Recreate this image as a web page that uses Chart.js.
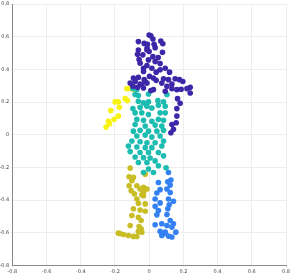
<!DOCTYPE html>
<html>
<head>
<meta charset="utf-8">
<script src="https://cdn.jsdelivr.net/npm/chart.js@4"></script>
<style>
  html, body { margin: 0; padding: 0; background: #fff; }
  #c { display: block; }
</style>
</head>
<body>
<canvas id="c" width="291" height="273"></canvas>
<script>
// cluster points [x, y]
const clusterTop = [
  [0.000,0.610],[0.010,0.606],[0.022,0.586],[0.068,0.574],[0.080,0.557],[-0.010,0.553],
  [0.029,0.553],[-0.063,0.570],[-0.029,0.559],[-0.013,0.519],[0.035,0.533],[0.078,0.505],
  [-0.037,0.489],[-0.063,0.519],[-0.068,0.492],[0.022,0.478],[-0.004,0.458],[0.035,0.448],
  [-0.053,0.438],[-0.013,0.424],[0.016,0.407],[0.064,0.398],[0.094,0.407],[0.119,0.383],
  [0.041,0.383],[-0.033,0.387],[-0.033,0.407],[0.002,0.357],[0.025,0.347],[0.084,0.343],
  [0.113,0.337],[0.152,0.343],[0.177,0.337],[0.197,0.326],[-0.023,0.326],[0.074,0.316],
  [0.133,0.310],[-0.043,0.306],[0.104,0.296],[0.240,0.290],[0.221,0.282],[0.025,0.276],
  [0.010,0.270],[0.162,0.276],[0.133,0.282],[0.240,0.255],[0.166,0.221],[0.162,0.160],
  [0.162,0.114],[0.133,0.063],[0.158,0.073],[0.142,0.033],[0.127,0.012],[-0.092,0.347],
  [-0.063,0.351],[-0.029,0.337],[-0.111,0.316],[-0.082,0.326],[-0.053,0.310],[-0.013,0.316],
  [-0.068,0.290],[-0.095,0.296],[-0.033,0.286],[0.053,0.472],[-0.012,0.531],[0.064,0.436],
  [-0.059,0.460],[0.000,0.509],[0.041,0.333],[0.094,0.266],[0.187,0.278],[0.181,0.193]
];
const clusterMid = [
  [-0.095,0.282],[-0.082,0.246],[-0.063,0.240],[-0.072,0.276],[-0.004,0.249],[-0.063,0.205],
  [-0.033,0.195],[-0.004,0.201],[0.051,0.209],[0.084,0.201],[0.104,0.246],[-0.053,0.168],
  [-0.013,0.174],[0.016,0.164],[0.054,0.181],[0.094,0.174],[-0.082,0.134],[-0.043,0.134],
  [-0.004,0.124],[0.064,0.134],[0.094,0.134],[-0.072,0.094],[-0.033,0.088],[0.016,0.083],
  [0.054,0.094],[0.084,0.088],[-0.082,0.063],[-0.023,0.053],[0.035,0.059],[0.074,0.053],
  [-0.092,0.022],[-0.053,0.027],[-0.004,0.022],[0.045,0.022],[0.084,0.027],[-0.072,-0.008],
  [-0.023,-0.002],[0.016,-0.014],[0.064,-0.008],[-0.101,-0.038],[-0.053,-0.043],[-0.013,-0.049],
  [0.035,-0.049],[0.084,-0.038],[-0.121,-0.069],[-0.072,-0.075],[-0.023,-0.079],[0.016,-0.079],
  [0.074,-0.069],[-0.111,-0.103],[-0.053,-0.109],[-0.004,-0.109],[0.054,-0.109],[-0.082,-0.136],
  [-0.033,-0.140],[0.006,-0.143],[0.084,-0.129],[-0.063,-0.170],[-0.013,-0.170],[0.035,-0.160],
  [0.054,-0.190],[-0.004,-0.210],[-0.033,-0.231],[0.025,-0.231],[0.099,-0.202],[-0.095,0.160]
];
const clusterArm = [
  [-0.130,0.282],[-0.107,0.282],[-0.088,0.278],[-0.140,0.221],[-0.127,0.209],[-0.199,0.201],
  [-0.180,0.201],[-0.224,0.148],[-0.174,0.168],[-0.180,0.114],[-0.205,0.094],[-0.238,0.083],
  [-0.232,0.067],[-0.252,0.047]
];
const clusterLeftLeg = [
  [-0.111,-0.204],[-0.023,-0.241],[-0.117,-0.257],[-0.092,-0.261],[-0.101,-0.281],[-0.072,-0.312],
  [-0.117,-0.312],[-0.105,-0.342],[-0.086,-0.362],[-0.043,-0.367],[-0.033,-0.322],[-0.013,-0.332],
  [-0.053,-0.332],[-0.072,-0.393],[-0.063,-0.419],[-0.023,-0.423],[-0.092,-0.453],[-0.053,-0.460],
  [-0.023,-0.468],[-0.101,-0.494],[-0.063,-0.505],[-0.047,-0.525],[-0.111,-0.555],[-0.059,-0.561],
  [-0.047,-0.575],[-0.180,-0.602],[-0.170,-0.604],[-0.150,-0.610],[-0.121,-0.616],[-0.092,-0.622],
  [-0.072,-0.622],[-0.063,-0.590],[-0.043,-0.596],[-0.033,-0.350],[-0.033,-0.373]
];
const clusterRightLeg = [
  [0.113,-0.231],[0.109,-0.288],[0.123,-0.308],[0.127,-0.277],[0.054,-0.292],[0.064,-0.336],
  [0.104,-0.332],[0.045,-0.356],[0.123,-0.353],[0.035,-0.393],[0.113,-0.393],[0.064,-0.417],
  [0.117,-0.429],[0.035,-0.438],[0.109,-0.453],[0.142,-0.407],[0.054,-0.464],[0.045,-0.490],
  [0.104,-0.488],[0.123,-0.525],[0.074,-0.545],[0.035,-0.551],[0.104,-0.555],[0.133,-0.565],
  [0.142,-0.545],[0.064,-0.591],[0.084,-0.605],[0.156,-0.596],[0.113,-0.620],[0.133,-0.626],
  [0.074,-0.616],[0.094,-0.596]
];
const clusterColors = ['#3e26a8', '#1cbcb0', '#f7f211', '#c9bd25', '#3380f2'];
const axisMin = -0.8, axisMax = 0.8, axisStep = 0.2;

const clusters = [clusterTop, clusterMid, clusterArm, clusterLeftLeg, clusterRightLeg];

function axis(isX) {
  return {
    type: 'linear',
    min: axisMin,
    max: axisMax,
    ticks: { stepSize: axisStep, color: '#444', font: { size: 5, family: 'DejaVu Sans' }, padding: 1 },
    grid: { color: '#eeeeee', lineWidth: 1, tickLength: 2 },
    border: { color: '#8a8a8a', width: 1 },
    afterFit: s => { if (isX) s.height = 7.5; else s.width = 12.3; }
  };
}

new Chart(document.getElementById('c'), {
  type: 'scatter',
  data: {
    datasets: clusters.map((pts, i) => ({
      data: pts.map(p => ({ x: p[0], y: p[1] })),
      backgroundColor: clusterColors[i],
      borderWidth: 0,
      pointRadius: 2.8,
    })),
  },
  options: {
    responsive: false,
    devicePixelRatio: 1,
    animation: false,
    layout: { padding: { top: 2.5, right: 5, left: 0, bottom: 0 } },
    plugins: { legend: { display: false }, tooltip: { enabled: false } },
    scales: { x: axis(true), y: axis(false) },
  },
});
</script>
</body>
</html>
